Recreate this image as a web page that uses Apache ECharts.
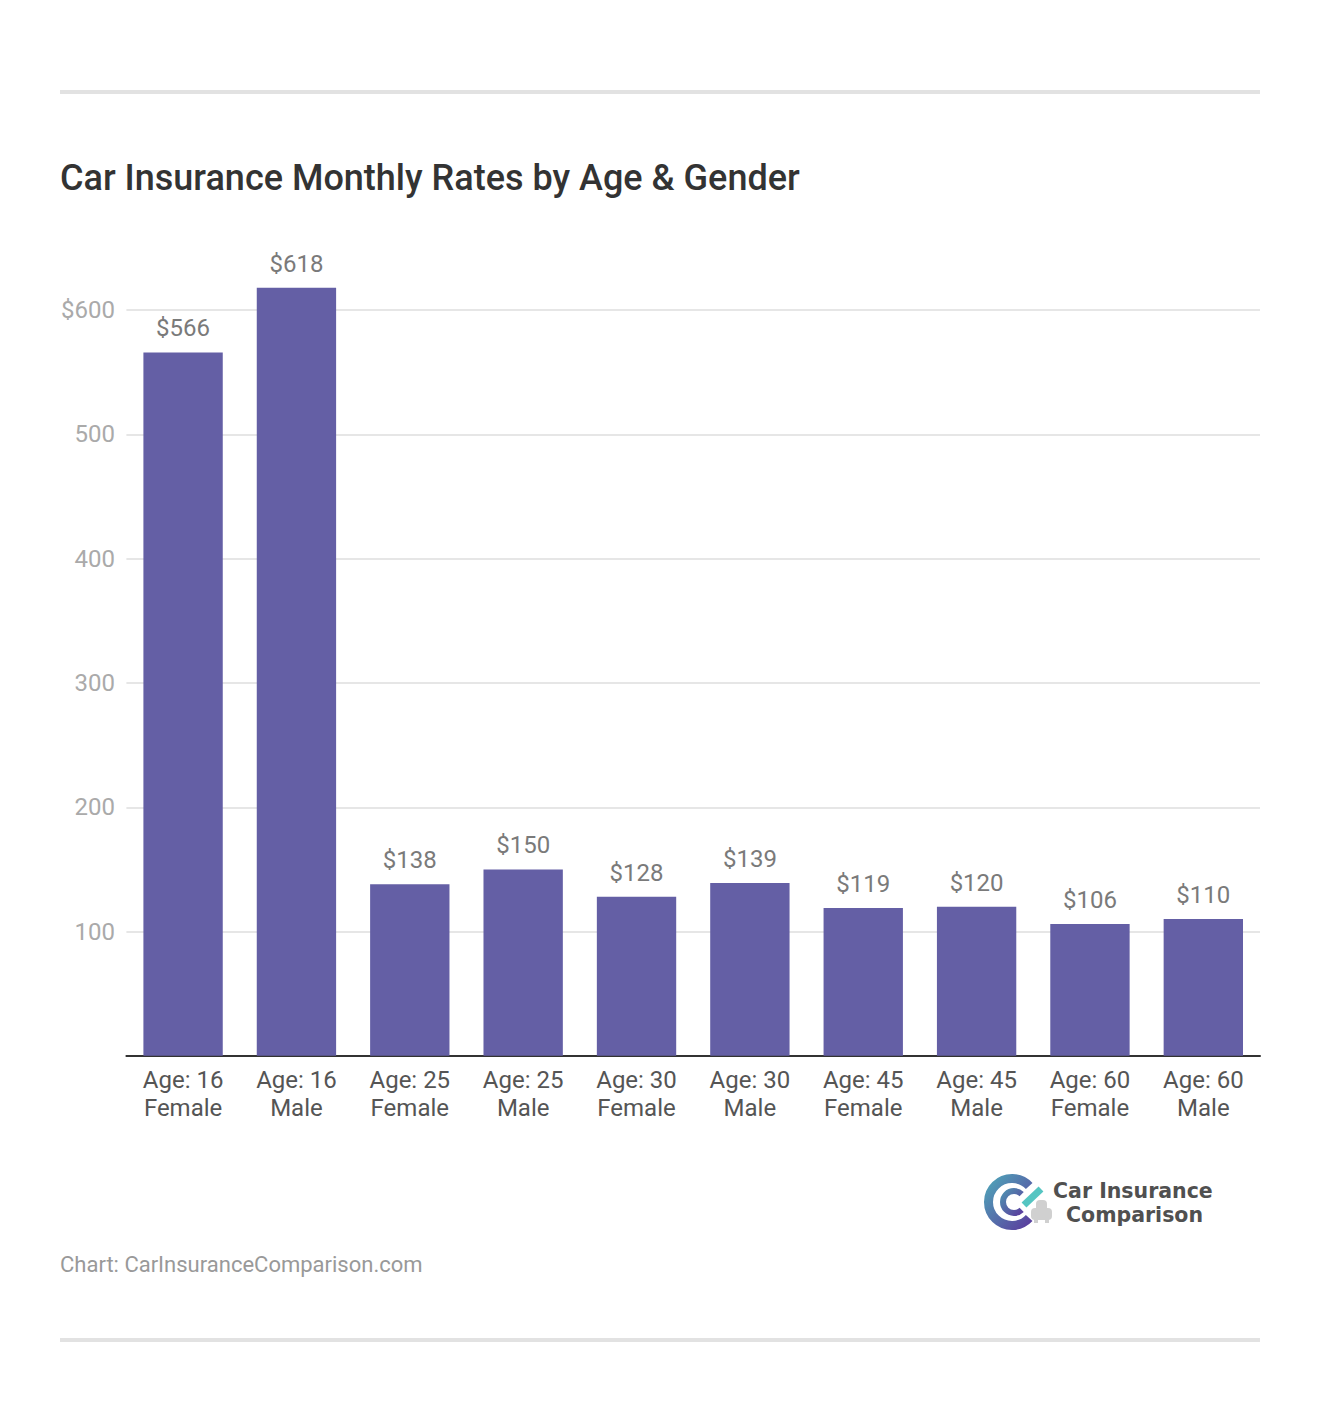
<!DOCTYPE html>
<html><head><meta charset="utf-8">
<style>html,body{margin:0;padding:0;background:#fff}#c{width:1320px;height:1422px}</style>
<script src="https://cdn.jsdelivr.net/npm/echarts@6/dist/echarts.min.js"></script>
</head><body><div id="c"></div>
<script>
const categories = ['Age: 16\nFemale','Age: 16\nMale','Age: 25\nFemale','Age: 25\nMale','Age: 30\nFemale','Age: 30\nMale','Age: 45\nFemale','Age: 45\nMale','Age: 60\nFemale','Age: 60\nMale'];
const rates = [566,618,138,150,128,139,119,120,106,110];
const titleText = 'Car Insurance Monthly Rates by Age & Gender';
const sourceText = 'Chart: CarInsuranceComparison.com';
const F = 'Roboto';
const chart = echarts.init(document.getElementById('c'), null, {renderer:'svg'});
chart.setOption({
  animation:false,
  backgroundColor:'#fff',
  textStyle:{fontFamily:F},
  title:{text:titleText,left:60,top:160,padding:0,textStyle:{fontFamily:F,fontSize:36,fontWeight:500,color:'#333333'}},
  grid:{left:126.4,right:60,top:310.2,bottom:366.2,containLabel:false},
  xAxis:{type:'category',data:categories,
    axisTick:{show:false},
    axisLine:{lineStyle:{color:'#333333',width:2}},
    axisLabel:{interval:0,margin:10,fontFamily:F,fontSize:24,lineHeight:28,color:'#555555'}},
  yAxis:{type:'value',min:0,max:600,interval:100,
    axisLine:{show:false},axisTick:{show:false},
    splitLine:{lineStyle:{color:'#e6e6e6',width:2}},
    axisLabel:{margin:11.5,fontFamily:F,fontSize:24,color:'#aaaaaa',
      formatter:v=>v===0?'':(v===600?'$600':String(v))}},
  series:[{type:'bar',data:rates,barWidth:'70%',clip:false,
    itemStyle:{color:'#645fa5'},
    label:{show:true,position:'top',distance:12,fontFamily:F,fontSize:24,color:'#7a7a7a',formatter:p=>'$'+p.value}}],
  graphic:[
    {type:'rect',shape:{x:60,y:90,width:1200,height:4},style:{fill:'#e2e2e2'}},
    {type:'rect',shape:{x:60,y:1338,width:1200,height:4},style:{fill:'#e2e2e2'}},
    {type:'text',x:60,y:1253,style:{text:sourceText,fontFamily:F,fontSize:22,fill:'#999999'}},
    // logo
    {type:'arc',shape:{cx:1012,cy:1202,r:23.5,startAngle:-0.75,endAngle:0.75,clockwise:false},
      style:{fill:null,stroke:new echarts.graphic.LinearGradient(0,0,1,1,[{offset:0,color:'#4fa3b8'},{offset:1,color:'#5a3f9e'}]),lineWidth:9}},
    {type:'arc',shape:{cx:1014,cy:1202,r:11,startAngle:-0.8,endAngle:0.8,clockwise:false},
      style:{fill:null,stroke:new echarts.graphic.LinearGradient(0,0,1,1,[{offset:0,color:'#4f8fb0'},{offset:1,color:'#5a3f9e'}]),lineWidth:6}},
    {type:'line',shape:{x1:1024,y1:1205,x2:1041,y2:1189},style:{stroke:'#55c5c2',lineWidth:7}},
    {type:'rect',shape:{x:1036,y:1200,width:11,height:10,r:[4,4,0,0]},style:{fill:'#d0d0d0'}},
    {type:'rect',shape:{x:1031,y:1208,width:21,height:12,r:4},style:{fill:'#d0d0d0'}},
    {type:'rect',shape:{x:1034,y:1219,width:4,height:4},style:{fill:'#d0d0d0'}},
    {type:'rect',shape:{x:1045,y:1219,width:4,height:4},style:{fill:'#d0d0d0'}},
    {type:'text',x:1053,y:1180,style:{text:'Car Insurance',fontFamily:'DejaVu Sans',fontSize:20.5,fontWeight:700,fill:'#505050'}},
    {type:'text',x:1066,y:1204,style:{text:'Comparison',fontFamily:'DejaVu Sans',fontSize:20.5,fontWeight:700,fill:'#505050'}}
  ]
});
</script></body></html>
